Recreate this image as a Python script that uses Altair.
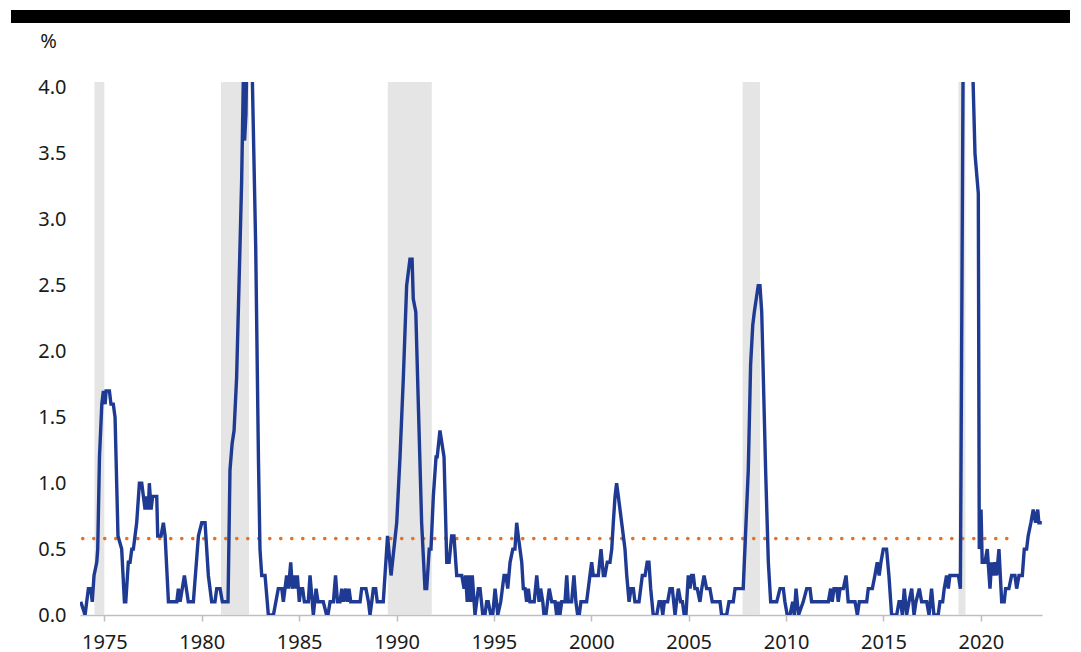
import altair as alt
import pandas as pd

# ---- data ----
years = [
    1973.79, 1974.01, 1974.18, 1974.30, 1974.38, 1974.47, 1974.61, 1974.66, 1974.75, 1974.87, 1974.95,
    1975.04, 1975.09, 1975.26, 1975.34, 1975.46, 1975.55, 1975.70, 1975.89,
    1976.03, 1976.10, 1976.23, 1976.32, 1976.41, 1976.49, 1976.66, 1976.80, 1976.92,
    1977.09, 1977.18, 1977.26, 1977.31, 1977.40, 1977.48, 1977.69, 1977.74, 1977.91,
    1978.03, 1978.12, 1978.29, 1978.72, 1978.80, 1978.89,
    1979.11, 1979.31, 1979.57, 1979.83,
    1980.00, 1980.17, 1980.34, 1980.51, 1980.68, 1980.77, 1980.94,
    1981.06, 1981.35, 1981.45, 1981.56, 1981.66, 1981.79, 1981.93,
    1982.05, 1982.15, 1982.20, 1982.27, 1982.35, 1982.48, 1982.58, 1982.77, 1982.91, 1982.99,
    1983.08, 1983.25, 1983.42, 1983.68, 1983.93,
    1984.11, 1984.19, 1984.36, 1984.45, 1984.57, 1984.65, 1984.75, 1984.84, 1984.91,
    1985.01, 1985.08, 1985.18, 1985.27, 1985.47, 1985.56, 1985.73, 1985.87, 1985.97,
    1986.24, 1986.41, 1986.48, 1986.59, 1986.76, 1986.87, 1986.97,
    1987.10, 1987.19, 1987.27, 1987.39, 1987.47, 1987.56, 1987.65,
    1988.13, 1988.21, 1988.43, 1988.56, 1988.64, 1988.73, 1988.81, 1988.93,
    1989.01, 1989.32, 1989.54, 1989.72,
    1990.01, 1990.18, 1990.35, 1990.52, 1990.69, 1990.80, 1990.86, 1990.99,
    1991.12, 1991.29, 1991.46, 1991.55, 1991.68, 1991.77, 1991.89,
    1992.03, 1992.09, 1992.23, 1992.44, 1992.58, 1992.70, 1992.83, 1992.95,
    1993.09, 1993.35, 1993.47, 1993.55, 1993.63, 1993.72, 1993.81, 1993.89,
    1994.03, 1994.20, 1994.29, 1994.43, 1994.54, 1994.63, 1994.71, 1994.84, 1994.94,
    1995.06, 1995.20, 1995.35, 1995.52, 1995.62, 1995.71, 1995.83, 1995.97,
    1996.08, 1996.17, 1996.25, 1996.43, 1996.51, 1996.60, 1996.68, 1996.77, 1996.85,
    1997.07, 1997.20, 1997.32, 1997.40, 1997.51, 1997.57, 1997.67, 1997.84, 1997.97,
    1998.14, 1998.22, 1998.31, 1998.39, 1998.48, 1998.65, 1998.74, 1998.82, 1998.99,
    1999.11, 1999.21, 1999.30, 1999.38, 1999.47, 1999.76, 1999.93,
    2000.02, 2000.10, 2000.36, 2000.50, 2000.62, 2000.70, 2000.82, 2000.96,
    2001.05, 2001.13, 2001.22, 2001.30, 2001.39, 2001.56, 2001.73, 2001.82, 2001.94,
    2002.04, 2002.16, 2002.24, 2002.45, 2002.62, 2002.76, 2002.87, 2002.96,
    2003.05, 2003.18, 2003.36, 2003.48, 2003.58, 2003.67, 2003.75, 2003.92,
    2004.04, 2004.16, 2004.30, 2004.38, 2004.47, 2004.59, 2004.68, 2004.77, 2004.86, 2004.98,
    2005.07, 2005.15, 2005.24, 2005.32, 2005.44, 2005.58, 2005.67, 2005.79, 2005.92,
    2006.09, 2006.21, 2006.61, 2006.69, 2006.95,
    2007.07, 2007.29, 2007.38, 2007.80,
    2008.06, 2008.18, 2008.29, 2008.37, 2008.57, 2008.66, 2008.75, 2008.95,
    2009.09, 2009.21, 2009.52, 2009.69, 2009.86, 2009.94,
    2010.06, 2010.20, 2010.34, 2010.42, 2010.51, 2010.64, 2010.88,
    2011.06, 2011.23, 2011.31,
    2012.17, 2012.29, 2012.37, 2012.46, 2012.60, 2012.68, 2012.77, 2012.94,
    2013.08, 2013.19, 2013.54, 2013.66, 2013.76,
    2014.14, 2014.22, 2014.43, 2014.56, 2014.68, 2014.78, 2014.87, 2014.99,
    2015.16, 2015.28, 2015.42, 2015.68, 2015.80, 2015.88, 2015.97,
    2016.07, 2016.19, 2016.31, 2016.45, 2016.57, 2016.67, 2016.84, 2016.96,
    2017.22, 2017.34, 2017.47, 2017.59, 2017.81, 2017.90,
    2018.04, 2018.12, 2018.24, 2018.33, 2018.41, 2018.85, 2018.95,
    2019.24, 2019.39, 2019.52, 2019.70, 2019.87, 2019.92,
    2020.01, 2020.07, 2020.21, 2020.33, 2020.47, 2020.55, 2020.64, 2020.72, 2020.81, 2020.93,
    2021.07, 2021.20, 2021.27, 2021.44, 2021.58, 2021.75, 2021.84, 2021.96,
    2022.13, 2022.23, 2022.35, 2022.43, 2022.57, 2022.69, 2022.81, 2022.92, 2022.98, 2023.13,
]

values = [
    0.1, 0.0, 0.2, 0.2, 0.1, 0.3, 0.4, 0.5, 1.2, 1.6, 1.7,
    1.6, 1.7, 1.7, 1.6, 1.6, 1.5, 0.6, 0.5,
    0.1, 0.1, 0.4, 0.4, 0.5, 0.5, 0.7, 1.0, 1.0,
    0.8, 0.9, 0.8, 1.0, 0.8, 0.9, 0.9, 0.6, 0.6,
    0.7, 0.6, 0.1, 0.1, 0.2, 0.1,
    0.3, 0.1, 0.1, 0.6,
    0.7, 0.7, 0.3, 0.1, 0.1, 0.2, 0.2,
    0.1, 0.1, 1.1, 1.3, 1.4, 1.8, 2.6,
    3.3, 4.2, 3.6, 3.8, 4.6, 5.0, 4.2, 2.8, 1.2, 0.5,
    0.3, 0.3, 0.0, 0.0, 0.2,
    0.2, 0.1, 0.3, 0.2, 0.4, 0.2, 0.3, 0.2, 0.3,
    0.1, 0.2, 0.2, 0.1, 0.1, 0.3, 0.0, 0.2, 0.1,
    0.1, 0.0, 0.0, 0.1, 0.1, 0.3, 0.1,
    0.1, 0.2, 0.1, 0.2, 0.1, 0.2, 0.1,
    0.1, 0.2, 0.2, 0.1, 0.0, 0.1, 0.2, 0.2,
    0.1, 0.1, 0.6, 0.3,
    0.7, 1.2, 1.8, 2.5, 2.7, 2.7, 2.4, 2.3,
    1.6, 0.7, 0.2, 0.2, 0.5, 0.5, 0.9,
    1.2, 1.2, 1.4, 1.2, 0.4, 0.4, 0.6, 0.6,
    0.3, 0.3, 0.2, 0.3, 0.1, 0.3, 0.1, 0.3,
    0.0, 0.2, 0.2, 0.0, 0.0, 0.1, 0.1, 0.0, 0.0,
    0.2, 0.0, 0.1, 0.3, 0.3, 0.2, 0.4, 0.5,
    0.5, 0.7, 0.6, 0.4, 0.2, 0.2, 0.1, 0.2, 0.1,
    0.1, 0.3, 0.1, 0.2, 0.1, 0.0, 0.0, 0.2, 0.1,
    0.1, 0.0, 0.1, 0.0, 0.1, 0.1, 0.3, 0.1, 0.1,
    0.3, 0.1, 0.0, 0.0, 0.1, 0.1, 0.3,
    0.4, 0.3, 0.3, 0.5, 0.3, 0.3, 0.4, 0.4,
    0.5, 0.7, 0.9, 1.0, 0.9, 0.7, 0.5, 0.3, 0.1,
    0.2, 0.2, 0.1, 0.1, 0.3, 0.3, 0.4, 0.4,
    0.2, 0.0, 0.0, 0.1, 0.1, 0.0, 0.1, 0.1,
    0.2, 0.2, 0.0, 0.1, 0.2, 0.1, 0.1, 0.0, 0.0, 0.3,
    0.2, 0.3, 0.3, 0.2, 0.2, 0.1, 0.2, 0.3, 0.2,
    0.2, 0.1, 0.1, 0.0, 0.0,
    0.1, 0.1, 0.2, 0.2,
    1.1, 1.9, 2.2, 2.3, 2.5, 2.5, 2.3, 1.1,
    0.4, 0.1, 0.1, 0.2, 0.2, 0.1,
    0.0, 0.0, 0.1, 0.0, 0.2, 0.0, 0.1,
    0.2, 0.2, 0.1,
    0.1, 0.2, 0.1, 0.2, 0.2, 0.1, 0.2, 0.2,
    0.3, 0.1, 0.1, 0.0, 0.1,
    0.1, 0.2, 0.2, 0.3, 0.4, 0.3, 0.4, 0.5,
    0.5, 0.3, 0.0, 0.0, 0.1, 0.1, 0.0,
    0.2, 0.0, 0.1, 0.2, 0.0, 0.1, 0.2, 0.1,
    0.1, 0.0, 0.2, 0.0, 0.0, 0.1,
    0.1, 0.2, 0.3, 0.2, 0.3, 0.3, 0.2,
    8.5, 8.0, 4.5, 3.5, 3.2, 0.5,
    0.8, 0.4, 0.4, 0.5, 0.2, 0.4, 0.3, 0.4, 0.3, 0.5,
    0.1, 0.1, 0.2, 0.2, 0.3, 0.3, 0.2, 0.3,
    0.3, 0.5, 0.5, 0.6, 0.7, 0.8, 0.7, 0.8, 0.7, 0.7,
]

recession_start = [1974.49, 1980.99, 1989.55, 2007.77, 2018.85]
recession_end = [1975.00, 1982.43, 1991.81, 2008.66, 2019.21]

average_years = [1973.89, 2021.75]
average_values = [0.58, 0.58]

x_ticks = [1975, 1980, 1985, 1990, 1995, 2000, 2005, 2010, 2015, 2020]
y_ticks = [0.0, 0.5, 1.0, 1.5, 2.0, 2.5, 3.0, 3.5, 4.0]

# ---- styling ----
BLUE = "#1f3a93"
ORANGE = "#e0742c"
GREY_BAND = "#e5e5e5"
AXIS_GREY = "#bfbfbf"
FONT = "Noto Sans"

series = pd.DataFrame({"year": years, "value": values})
recessions = pd.DataFrame({"start": recession_start, "end": recession_end})
average = pd.DataFrame({"year": average_years, "value": average_values})

x_scale = alt.Scale(domain=[1973.75, 2023.14], nice=False, zero=False)
y_scale = alt.Scale(domain=[0, 4.045], nice=False, zero=True)

x_axis = alt.Axis(
    values=x_ticks, format="d", title=None, grid=False,
    domainColor=AXIS_GREY, domainWidth=1.5, tickColor=AXIS_GREY, tickWidth=1.5,
    tickSize=6, labelPadding=11, labelFontSize=20, labelFont=FONT, labelColor="#1a1a1a",
)
y_axis = alt.Axis(
    values=y_ticks, format=".1f", title="%", grid=False, domain=False, ticks=False,
    labelPadding=14, labelFontSize=20, labelFont=FONT, labelColor="#1a1a1a",
    titleAngle=0, titleX=-32, titleY=-41, titleAlign="center", titleBaseline="middle",
    titleFontSize=20, titleFont=FONT, titleFontWeight="normal", titleColor="#1a1a1a",
)

bands = alt.Chart(recessions).mark_rect(color=GREY_BAND).encode(
    x=alt.X("start:Q", scale=x_scale, axis=x_axis),
    x2="end:Q",
)

avg_line = alt.Chart(average).mark_line(
    color=ORANGE, strokeWidth=3.6, strokeDash=[0.1, 10.9], strokeCap="round"
).encode(
    x=alt.X("year:Q", scale=x_scale, axis=x_axis),
    y=alt.Y("value:Q", scale=y_scale, axis=y_axis),
)

main_line = alt.Chart(series).mark_line(color=BLUE, strokeWidth=3.4, clip=True).encode(
    x=alt.X("year:Q", scale=x_scale, axis=x_axis),
    y=alt.Y("value:Q", scale=y_scale, axis=y_axis),
)

top_bar = alt.Chart(pd.DataFrame({"k": [0]})).mark_rect(color="black").encode(
    x=alt.value(-69), x2=alt.value(990), y=alt.value(-72), y2=alt.value(-59)
)

chart = (
    alt.layer(bands, avg_line, main_line, top_bar)
    .properties(
        width=962, height=533,
        autosize=alt.AutoSizeParams(type="none"),
        padding={"left": 72, "top": 74, "right": 31, "bottom": 46},
    )
    .configure_view(stroke=None)
)

chart.save("out.html", embed_options={"renderer": "svg", "actions": False})
